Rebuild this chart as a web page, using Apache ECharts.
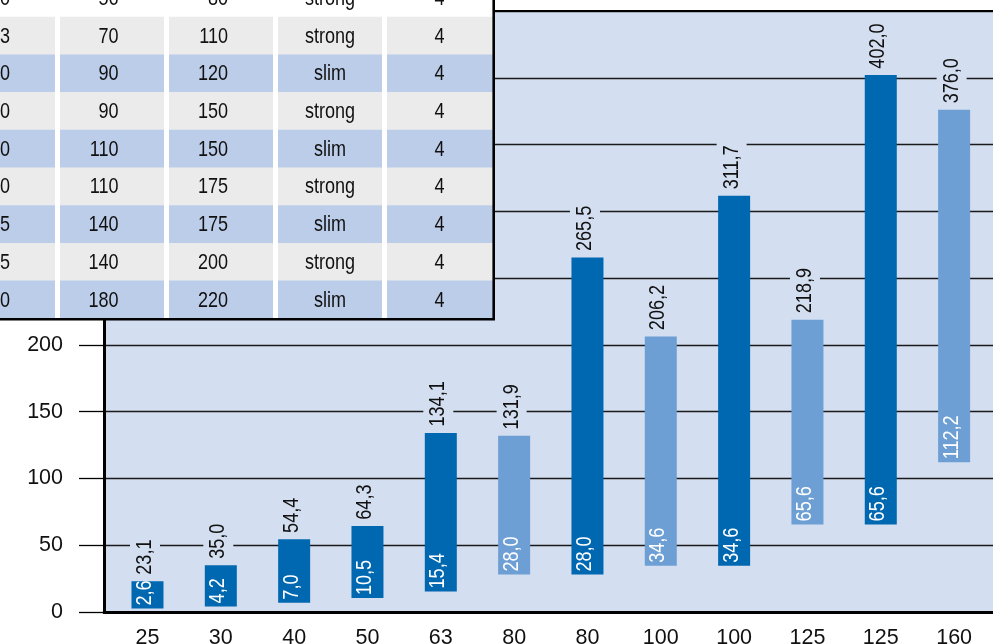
<!DOCTYPE html>
<html>
<head>
<meta charset="utf-8">
<script src="https://cdn.jsdelivr.net/npm/echarts@6/dist/echarts.min.js"></script>
<style>
html,body{margin:0;padding:0;background:#fff;}
#chart{width:993px;height:644px;}
</style>
</head>
<body>
<div id="chart"></div>
<script>
// ---- chart data ----
const sizes = ['25','30','40','50','63','80','80','100','100','125','125','160'];
const types = ['strong','strong','strong','strong','strong','slim','strong','slim','strong','slim','strong','slim'];
const lowValues  = [2.6, 4.2, 7.0, 10.5, 15.4, 28.0, 28.0, 34.6, 34.6, 65.6, 65.6, 112.2];
const highValues = [23.1, 35.0, 54.4, 64.3, 134.1, 131.9, 265.5, 206.2, 311.7, 218.9, 402.0, 376.0];

// ---- table data (partly cropped in the reference) ----
const tblSize  = [50, 63, 80, 80, 100, 100, 125, 125, 160];
const tblColA  = [56, 70, 90, 90, 110, 110, 140, 140, 180];
const tblColB  = [80, 110, 120, 150, 150, 175, 175, 200, 220];
const tblType  = ['strong','strong','slim','strong','slim','strong','slim','strong','slim'];
const tblCount = [4, 4, 4, 4, 4, 4, 4, 4, 4];

const FONT_FAMILY = "'Liberation Sans', Arial, sans-serif";
const FS = 22;
const AXIS_FS = 21.5;
const NARROW = 0.82;
const PLOT_BG = '#d3def0';
const COLORS = { strong: '#0067b1', slim: '#6d9fd4' };
const fmt = v => v.toFixed(1).replace('.', ',');

const GRID_LEFT = 104, PX_PER_CAT = 73.33;
const GRID_WIDTH = 993 - GRID_LEFT;
const X_MIN = -0.593;
const X_MAX = X_MIN + GRID_WIDTH / PX_PER_CAT;

const seriesData = sizes.map((s, i) => [i, lowValues[i], highValues[i]]);

// ---- table graphic ----
function buildTable() {
  const children = [];
  const Z = 100;
  const rowTop0 = -21, rowH = 37.7;
  const cols = [[-10, 55], [60, 164], [169, 273], [278, 382], [387, 493]];
  const nRows = tblSize.length;
  const bottom = rowTop0 + nRows * rowH;
  children.push({ type: 'rect', z: Z, shape: { x: 0, y: 0, width: 494, height: bottom }, style: { fill: '#ffffff' } });
  for (let r = 0; r < nRows; r++) {
    const y = rowTop0 + r * rowH;
    const fill = r === 0 ? '#ffffff' : (r % 2 === 1 ? '#ebebeb' : '#bccde9');
    cols.forEach(c => {
      children.push({ type: 'rect', z: Z, shape: { x: c[0], y: y, width: c[1] - c[0], height: rowH + 0.5 }, style: { fill: fill } });
    });
    const cy = y + rowH / 2 + 1;
    const cells = [
      { t: String(tblSize[r]), x: 10, a: 'right' },
      { t: String(tblColA[r]), x: 118.5, a: 'right' },
      { t: String(tblColB[r]), x: 228, a: 'right' },
      { t: tblType[r], x: 330, a: 'center' },
      { t: String(tblCount[r]), x: 439.5, a: 'center' }
    ];
    cells.forEach(c => {
      children.push({ type: 'text', z: Z + 1, x: c.x, y: cy, scaleX: NARROW,
        style: { text: c.t, fill: '#111', font: FS + 'px ' + FONT_FAMILY, align: c.a, verticalAlign: 'middle' } });
    });
  }
  children.push({ type: 'line', z: Z + 2, shape: { x1: 493.7, y1: 0, x2: 493.7, y2: bottom + 1.3 }, style: { stroke: '#000', lineWidth: 2.6 } });
  children.push({ type: 'line', z: Z + 2, shape: { x1: 0, y1: bottom + 1, x2: 495, y2: bottom + 1 }, style: { stroke: '#000', lineWidth: 2.6 } });
  return children;
}

const chart = echarts.init(document.getElementById('chart'), null, { renderer: 'canvas' });
chart.setOption({
  backgroundColor: '#ffffff',
  animation: false,
  textStyle: { fontFamily: FONT_FAMILY },
  grid: {
    left: GRID_LEFT, top: 11, right: 0, bottom: 32,
    outerBoundsMode: 'none', containLabel: false,
    show: true, backgroundColor: PLOT_BG, borderWidth: 0
  },
  xAxis: [{
    type: 'value', min: X_MIN, max: X_MAX, position: 'bottom',
    axisLine: { show: true, onZero: false, lineStyle: { color: '#000', width: 3 } },
    axisTick: { show: false },
    splitLine: { show: false },
    axisLabel: {
      customValues: sizes.map((s, i) => i),
      formatter: v => sizes[Math.round(v)],
      margin: 15, fontSize: AXIS_FS, color: '#111', fontFamily: FONT_FAMILY
    }
  }, {
    type: 'value', min: X_MIN, max: X_MAX, position: 'top',
    axisLine: { show: true, onZero: false, lineStyle: { color: '#000', width: 2 } },
    axisTick: { show: false },
    splitLine: { show: false },
    axisLabel: { show: false }
  }],
  yAxis: {
    type: 'value', min: 0, max: 450, interval: 50,
    axisLine: { show: true, onZero: false, lineStyle: { color: '#000', width: 3 } },
    axisTick: { show: true, length: 25, lineStyle: { color: '#000', width: 1.3 } },
    splitLine: { show: true, lineStyle: { color: '#1a1a1a', width: 1.3 } },
    axisLabel: { margin: 41, fontSize: AXIS_FS, color: '#111', fontFamily: FONT_FAMILY }
  },
  series: [{
    type: 'custom',
    xAxisIndex: 0,
    data: seriesData,
    encode: { x: 0, y: [1, 2] },
    renderItem: function (params, api) {
      const i = api.value(0), lo = api.value(1), hi = api.value(2);
      const p0 = api.coord([i, lo]);
      const p1 = api.coord([i, hi]);
      const bw = 32;
      const color = COLORS[types[i]];
      const font = FS + 'px ' + FONT_FAMILY;
      return {
        type: 'group',
        children: [
          { type: 'rect', shape: { x: p0[0] - bw / 2, y: p1[1], width: bw, height: p0[1] - p1[1] }, style: { fill: color } },
          { type: 'text', x: p1[0] - 2.5, y: p1[1] - 4, rotation: Math.PI / 2, scaleX: NARROW, z2: 10,
            style: { text: fmt(hi), fill: '#111', font: font, align: 'left', verticalAlign: 'middle',
                     backgroundColor: PLOT_BG, padding: [4, 3, 4, 3] } },
          { type: 'text', x: p0[0] - 2.5, y: p0[1] - 3, rotation: Math.PI / 2, scaleX: NARROW, z2: 10,
            style: { text: fmt(lo), fill: '#ffffff', font: font, align: 'left', verticalAlign: 'middle' } }
        ]
      };
    }
  }],
  graphic: { elements: buildTable() }
});
</script>
</body>
</html>
